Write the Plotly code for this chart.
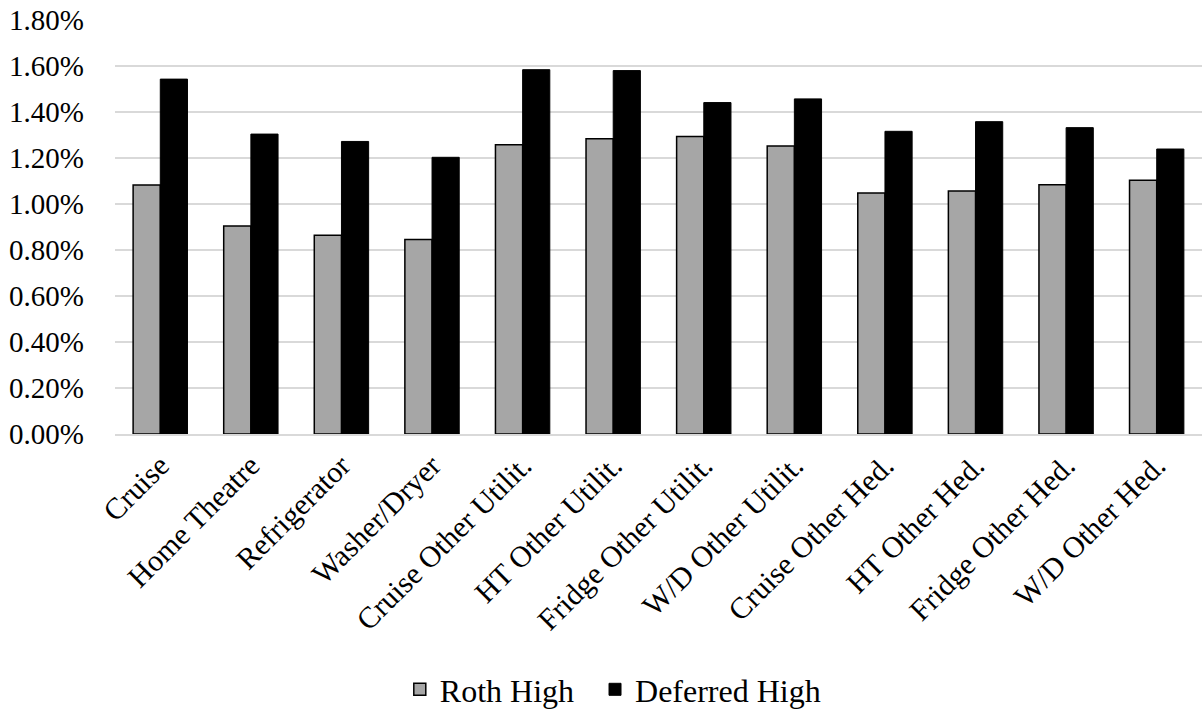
import plotly.graph_objects as go

categories = [
    "Cruise", "Home Theatre", "Refrigerator", "Washer/Dryer",
    "Cruise Other Utilit.", "HT Other Utilit.", "Fridge Other Utilit.", "W/D Other Utilit.",
    "Cruise Other Hed.", "HT Other Hed.", "Fridge Other Hed.", "W/D Other Hed.",
]
roth_high = [1.083, 0.904, 0.864, 0.846, 1.258, 1.284, 1.293, 1.252, 1.048, 1.057, 1.084, 1.103]
deferred_high = [1.543, 1.304, 1.272, 1.203, 1.584, 1.580, 1.441, 1.457, 1.316, 1.358, 1.332, 1.239]
y_ticks = [0.0, 0.2, 0.4, 0.6, 0.8, 1.0, 1.2, 1.4, 1.6, 1.8]

FONT = "Liberation Serif"
LEGEND_FONT = dict(family=FONT, size=32, color="#000000")

fig = go.Figure()
fig.add_trace(go.Bar(
    name="Roth High", x=categories, y=roth_high, legend="legend",
    marker=dict(color="#a6a6a6", line=dict(color="#000000", width=1.5)),
))
fig.add_trace(go.Bar(
    name="Deferred High", x=categories, y=deferred_high, legend="legend2",
    marker=dict(color="#000000", line=dict(color="#000000", width=1)),
))

fig.update_layout(
    width=1202, height=717,
    margin=dict(l=115, r=0, t=20, b=283),
    paper_bgcolor="white", plot_bgcolor="white",
    font=dict(family=FONT, size=29, color="#000000"),
    barmode="group", bargap=0.4, bargroupgap=0,
    showlegend=True,
    legend=dict(
        orientation="h", x=0.262, xanchor="left", y=-0.618, yanchor="middle",
        font=LEGEND_FONT,
    ),
    legend2=dict(
        orientation="h", x=0.4416, xanchor="left", y=-0.618, yanchor="middle",
        font=LEGEND_FONT,
    ),
    xaxis=dict(
        tickangle=-45, tickfont=dict(family=FONT, size=30, color="#000000"),
        showgrid=False, showline=True, linecolor="#d9d9d9", linewidth=2,
        ticks="", fixedrange=True,
    ),
    yaxis=dict(
        range=[0, 1.8], tickvals=y_ticks,
        ticktext=[f"{v:.2f}%" for v in y_ticks],
        tickfont=dict(family=FONT, size=29, color="#000000"),
        showgrid=True, gridcolor="#d9d9d9", gridwidth=2,
        zeroline=False, showline=False, ticks="",
        ticklabelstandoff=30,
    ),
)

fig.write_html("out.html")
